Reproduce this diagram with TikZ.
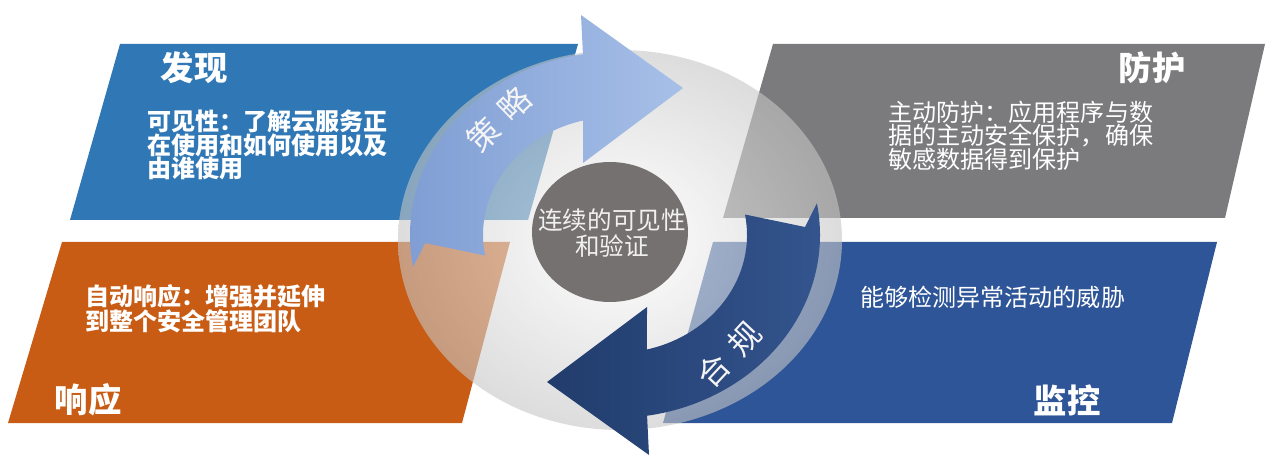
\documentclass[tikz,border=0pt]{standalone}
\usepackage{fontspec}
\setmainfont{Noto Sans CJK SC}
\definecolor{findblue}{HTML}{2F77B5}
\definecolor{guardgray}{HTML}{7B7B7D}
\definecolor{resporange}{HTML}{C85C14}
\definecolor{watchblue}{HTML}{2E5597}
\definecolor{coredisk}{HTML}{767171}
\definecolor{policydark}{HTML}{7F9DD3}
\definecolor{policylight}{HTML}{A7C0E8}
\definecolor{complylight}{HTML}{34558F}
\definecolor{complydark}{HTML}{213C6C}
\newcommand{\cyclepath}{(190:205 and 183) arc[start angle=190, end angle=99, x radius=205, y radius=183]
    -- (-34,220) -- (68,147) -- (-32,72)
    -- (104:132 and 118) arc[start angle=104, end angle=190, x radius=132, y radius=118]
    -- (-190,-8) -- cycle}
\begin{document}
\begin{tikzpicture}[x=0.02cm, y=0.02cm]
    % Styles
    \tikzstyle{heading} = [text=white, font=\fontsize{19}{19}\selectfont\bfseries, inner sep=0pt]
    \tikzstyle{bodytext} = [text=white, font=\fontsize{13.7}{13.2}\selectfont, align=left, anchor=north west, inner sep=0pt]
    \tikzstyle{arrowlabel} = [text=white!92!gray, font=\fontsize{18}{18}\selectfont, inner sep=0pt]

    \useasboundingbox (0,0) rectangle (1280,470);

    % Panels
    \fill[findblue] (120,426) -- (578,426) -- (528,250) -- (70,250) -- cycle;
    \fill[guardgray] (773,426) -- (1265,426) -- (1225,252) -- (723,252) -- cycle;
    \fill[resporange] (62,228) -- (510,228) -- (462,47) -- (8,47) -- cycle;
    \fill[watchblue] (713,228) -- (1217,228) -- (1172,47) -- (663,47) -- cycle;

    % Disk
    \shade[inner color=white, outer color=gray!45, opacity=0.6] (620,230) ellipse [x radius=222, y radius=190];

    % Cycle arrows
    \begin{scope}[shift={(615,235)}]
        \shade[left color=policydark, right color=policylight] \cyclepath;
        \shade[rotate=180, left color=complydark, right color=complylight] \cyclepath;
    \end{scope}
    \fill[coredisk] (610,238) ellipse [x radius=78, y radius=70];

    % Nodes
    \node[heading] (find) at (194,402) {发现};
    \node[bodytext, font=\fontsize{13.7}{13.2}\selectfont\bfseries] (findtxt) at (147,360) {可见性：了解云服务正\\在使用和如何使用以及\\由谁使用};
    \node[heading] (guard) at (1152,402) {防护};
    \node[bodytext] (guardtxt) at (888,369) {主动防护：应用程序与数\\据的主动安全保护，确保\\敏感数据得到保护};
    \node[bodytext, font=\fontsize{13.7}{13.2}\selectfont\bfseries] (resptxt) at (85,186) {自动响应：增强并延伸\\到整个安全管理团队};
    \node[heading] (resp) at (88,70) {响应};
    \node[bodytext] (watchtxt) at (860,184) {能够检测异常活动的威胁};
    \node[heading] (watch) at (1067,70) {监控};
    \node[text=white!88!gray, font=\fontsize{14}{15}\selectfont, align=center] (core) at (612,237) {连续的可见性\\和验证};
    \node[arrowlabel, rotate=44] (policy) at (499,351) {策\hspace{0.4em}略};
    \node[arrowlabel, rotate=47] (comply) at (729,115) {合\hspace{0.4em}规};
\end{tikzpicture}
\end{document}
